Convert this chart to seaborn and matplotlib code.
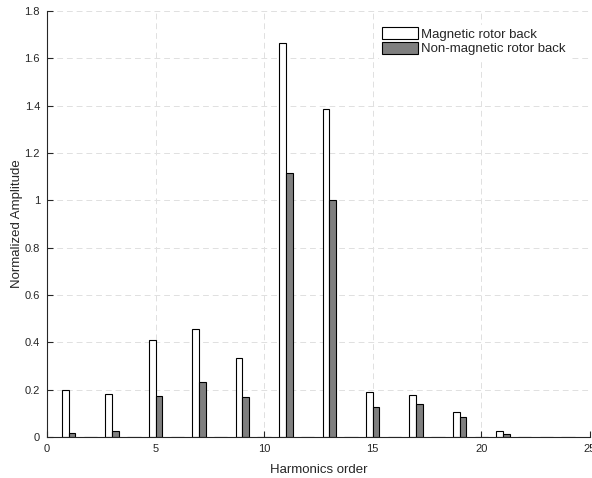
import numpy as np
import pandas as pd
import matplotlib
matplotlib.use("Agg")
import matplotlib.pyplot as plt
import seaborn as sns

# harmonic orders and normalized amplitudes
orders = list(range(1, 25))
magnetic = [0.20, 0, 0.183, 0, 0.41, 0, 0.455, 0, 0.335, 0, 1.666, 0,
            1.387, 0, 0.189, 0, 0.176, 0, 0.104, 0, 0.025, 0, 0, 0]
non_magnetic = [0.018, 0, 0.027, 0, 0.172, 0, 0.233, 0, 0.168, 0, 1.114, 0,
                1.001, 0, 0.125, 0, 0.138, 0, 0.086, 0, 0.013, 0, 0, 0]
series = ["Magnetic rotor back", "Non-magnetic rotor back"]
colors = ["white", "#7f7f7f"]

df = pd.DataFrame({
    "order": orders * 2,
    "amp": magnetic + non_magnetic,
    "series": [series[0]] * len(orders) + [series[1]] * len(orders),
})

sns.set_style("white")
plt.rcParams["font.family"] = ["Liberation Sans", "DejaVu Sans"]

fig = plt.figure(figsize=(5.92, 4.78), dpi=100)
ax = fig.add_axes([0.0794, 0.0858, 0.917, 0.891])

sns.barplot(data=df, x="order", y="amp", hue="series", native_scale=True,
            width=0.62, palette=colors, edgecolor="black", linewidth=0.8,
            saturation=1, ax=ax)

ax.set_xlim(0, 25)
ax.set_ylim(0, 1.8)
ax.set_xticks(np.arange(0, 26, 5))
ax.set_yticks(np.arange(0, 1.81, 0.2))
ax.set_yticklabels(["%g" % round(v, 1) for v in np.arange(0, 1.81, 0.2)])
ax.set_xticklabels([str(v) for v in range(0, 26, 5)])

ax.grid(True, linestyle=(0, (6, 4)), color="#e0e0e0", linewidth=0.7)
ax.set_axisbelow(True)
for s in ["top", "right"]:
    ax.spines[s].set_visible(False)
for s in ["left", "bottom"]:
    ax.spines[s].set_color("#262626")
    ax.spines[s].set_linewidth(0.8)
ax.tick_params(direction="in", length=4, width=0.8, colors="#262626",
               labelsize=8, left=True, bottom=True, pad=5)

ax.set_xlabel("Harmonics order", fontsize=9.5, color="#262626", labelpad=7)
ax.set_ylabel("Normalized Amplitude", fontsize=9.5, color="#262626", labelpad=1)

leg = ax.legend(loc="upper left", bbox_to_anchor=(0.612, 0.968), fontsize=9.5,
                frameon=True, fancybox=False, edgecolor="white",
                facecolor="white", framealpha=1, borderpad=0.2,
                handlelength=2.75, handleheight=0.95, handletextpad=0.2,
                labelspacing=0.12, borderaxespad=0)

fig.savefig("out.png", dpi=100)
